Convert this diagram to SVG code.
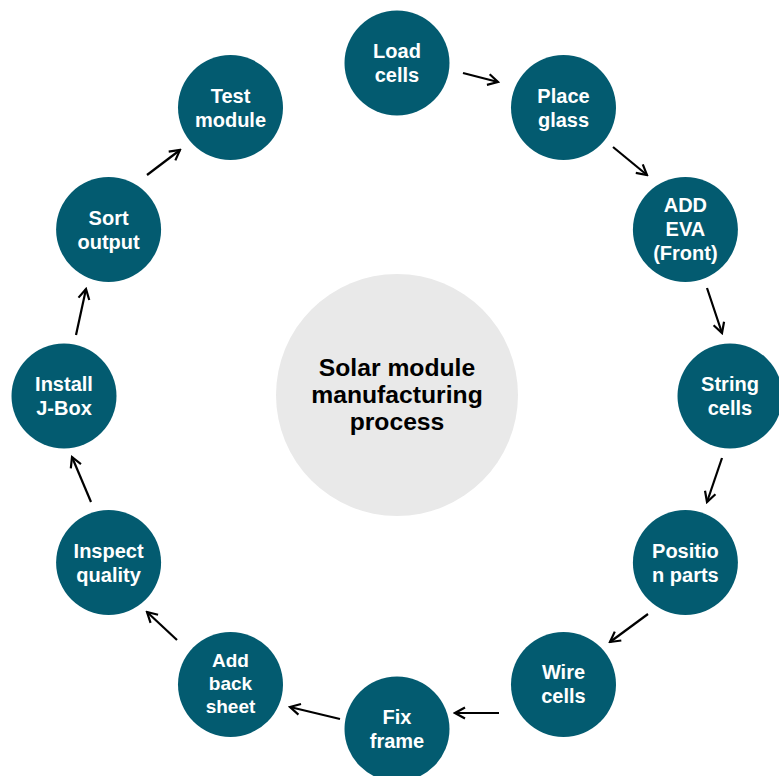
<svg xmlns="http://www.w3.org/2000/svg" width="779" height="776" viewBox="0 0 779 776">
<style>
.n{fill:#035b70}
.t{fill:#ffffff;font-family:"Liberation Sans",Arial,sans-serif;font-weight:bold;font-size:20px;text-anchor:middle}
.s{font-size:19px}
.c{fill:#000000;font-family:"Liberation Sans",Arial,sans-serif;font-weight:bold;font-size:24.7px;text-anchor:middle}
.a{stroke:#000;stroke-width:2.2;fill:none;marker-end:url(#ah)}
</style>
<defs>
<marker id="ah" markerUnits="userSpaceOnUse" markerWidth="14" markerHeight="14" refX="12" refY="7" orient="auto">
<path d="M2,1.5 L12,7 L2,12.5" fill="none" stroke="#000" stroke-width="2.2"/>
</marker>
</defs>
<rect width="779" height="776" fill="#ffffff"/>
<g id="center">
<circle cx="397" cy="395" r="121" fill="#e9e9e9"/>
<text class="c" x="397" y="376">Solar module</text>
<text class="c" x="397" y="403">manufacturing</text>
<text class="c" x="397" y="430">process</text>
</g>
<g id="connectors">
<line class="a" x1="463" y1="73" x2="498" y2="82"/>
<line class="a" x1="613" y1="147" x2="647" y2="175"/>
<line class="a" x1="707" y1="288" x2="722" y2="333"/>
<line class="a" x1="722" y1="458" x2="707" y2="502"/>
<line class="a" x1="648" y1="614" x2="610" y2="642"/>
<line class="a" x1="499" y1="713" x2="455" y2="713"/>
<line class="a" x1="340" y1="719" x2="290" y2="707"/>
<line class="a" x1="177" y1="640" x2="147" y2="612"/>
<line class="a" x1="91" y1="502" x2="72" y2="457"/>
<line class="a" x1="76" y1="335" x2="86" y2="289"/>
<line class="a" x1="147" y1="175" x2="180" y2="150"/>
</g>
<g id="load-cells"><circle class="n" cx="397" cy="63" r="52.5"/><text class="t" x="397" y="58">Load</text><text class="t" x="397" y="82">cells</text></g>
<g id="place-glass"><circle class="n" cx="563.5" cy="107.6" r="52.5"/><text class="t" x="563.5" y="102.6">Place</text><text class="t" x="563.5" y="126.6">glass</text></g>
<g id="add-eva"><circle class="n" cx="685.4" cy="229.5" r="52.5"/><text class="t" x="685.4" y="212">ADD</text><text class="t" x="685.4" y="236">EVA</text><text class="t" x="685.4" y="260">(Front)</text></g>
<g id="string-cells"><circle class="n" cx="730" cy="396" r="52.5"/><text class="t" x="730" y="391">String</text><text class="t" x="730" y="415">cells</text></g>
<g id="position-parts"><circle class="n" cx="685.4" cy="562.5" r="52.5"/><text class="t" x="685.4" y="557.5">Positio</text><text class="t" x="685.4" y="581.5">n parts</text></g>
<g id="wire-cells"><circle class="n" cx="563.5" cy="684.4" r="52.5"/><text class="t" x="563.5" y="679.4">Wire</text><text class="t" x="563.5" y="703.4">cells</text></g>
<g id="fix-frame"><circle class="n" cx="397" cy="729" r="52.5"/><text class="t" x="397" y="724">Fix</text><text class="t" x="397" y="748">frame</text></g>
<g id="add-back-sheet"><circle class="n" cx="230.5" cy="684.4" r="52.5"/><text class="t s" x="230.5" y="667">Add</text><text class="t s" x="230.5" y="690">back</text><text class="t s" x="230.5" y="713">sheet</text></g>
<g id="inspect-quality"><circle class="n" cx="108.6" cy="562.5" r="52.5"/><text class="t" x="108.6" y="557.5">Inspect</text><text class="t" x="108.6" y="581.5">quality</text></g>
<g id="install-jbox"><circle class="n" cx="64" cy="396" r="52.5"/><text class="t" x="64" y="391">Install</text><text class="t" x="64" y="415">J-Box</text></g>
<g id="sort-output"><circle class="n" cx="108.6" cy="229.5" r="52.5"/><text class="t" x="108.6" y="224.5">Sort</text><text class="t" x="108.6" y="248.5">output</text></g>
<g id="test-module"><circle class="n" cx="230.5" cy="107.6" r="52.5"/><text class="t" x="230.5" y="102.6">Test</text><text class="t" x="230.5" y="126.6">module</text></g>
</svg>
